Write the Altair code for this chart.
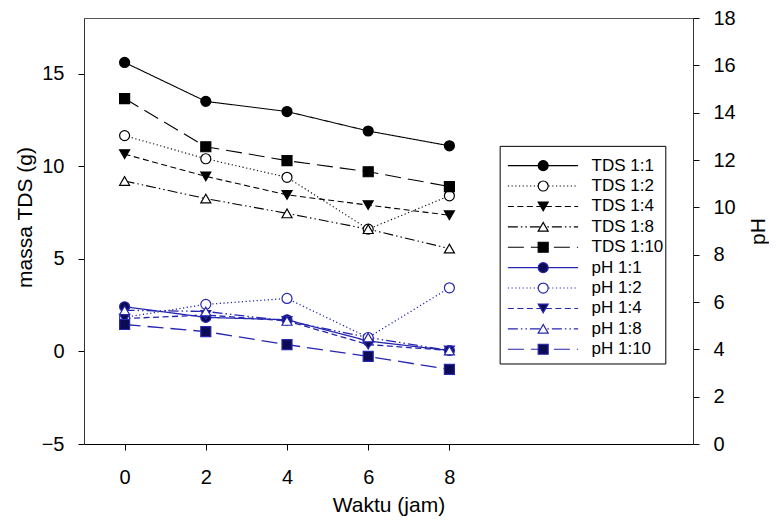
import altair as alt
import pandas as pd

# ---------------- data ----------------
hours = [0, 2, 4, 6, 8]
tds_names = ["TDS 1:1", "TDS 1:2", "TDS 1:4", "TDS 1:8", "TDS 1:10"]
ph_names = ["pH 1:1", "pH 1:2", "pH 1:4", "pH 1:8", "pH 1:10"]

tds_1_1 = [15.6, 13.5, 12.95, 11.9, 11.1]
tds_1_2 = [11.65, 10.4, 9.4, 6.6, 8.4]
tds_1_4 = [10.65, 9.45, 8.45, 7.9, 7.35]
tds_1_8 = [9.2, 8.25, 7.45, 6.6, 5.55]
tds_1_10 = [13.65, 11.05, 10.3, 9.7, 8.9]

ph_1_1 = [5.8, 5.35, 5.25, 4.35, 3.95]
ph_1_2 = [5.35, 5.9, 6.15, 4.5, 6.6]
ph_1_4 = [5.3, 5.45, 5.2, 4.2, 3.95]
ph_1_8 = [5.65, 5.6, 5.2, 4.5, 3.95]
ph_1_10 = [5.05, 4.75, 4.2, 3.7, 3.15]

left_ticks = [-5, 0, 5, 10, 15]
right_ticks = [0, 2, 4, 6, 8, 10, 12, 14, 16, 18]

# ---------------- styles ----------------
series_names = tds_names + ph_names
BLUE = "#2626b0"
NAVY = "#0c0c55"
stroke_range = ["black"] * 5 + [BLUE] * 5
fill_range = ["black", "white", "black", "white", "black",
              NAVY, "white", NAVY, "white", NAVY]
shape_range = ["circle", "circle", "triangle-down", "triangle-up", "square"] * 2
dash_range = [[1, 0], [1.2, 2.5], [6, 3.5], [10, 3, 1.5, 3, 1.5, 3], [16, 7]] * 2

FONT = "Liberation Sans"

tds_df = pd.DataFrame(
    [(n, h, v) for n, vals in zip(tds_names, [tds_1_1, tds_1_2, tds_1_4, tds_1_8, tds_1_10])
     for h, v in zip(hours, vals)],
    columns=["series", "t", "value"])
ph_df = pd.DataFrame(
    [(n, h, v) for n, vals in zip(ph_names, [ph_1_1, ph_1_2, ph_1_4, ph_1_8, ph_1_10])
     for h, v in zip(hours, vals)],
    columns=["series", "t", "value"])

# legend layout (in units of the x and left-y scales)
leg_top_row, leg_step = 10.03, 1.1016
legend_df = pd.DataFrame({
    "series": series_names,
    "value": [leg_top_row - leg_step * i for i in range(len(series_names))],
    "t": 9.44, "t2": 11.17, "tm": 10.31, "tt": 11.5,
})
box_df = pd.DataFrame({"x1": [9.25], "x2": [13.33], "y1": [11.07], "y2": [-0.68]})

# ---------------- scales / axes ----------------
x_scale = alt.Scale(domain=[-1, 14], nice=False, zero=False)
x_axis = alt.Axis(values=hours, title="Waktu (jam)", labelPadding=17, titlePadding=7)
yl_scale = alt.Scale(domain=[-5, 18], nice=False, zero=False)
yl_axis = alt.Axis(values=left_ticks, title="massa TDS (g)", orient="left",
                   titleAngle=270, titleX=-59, titleY=199, titleBaseline="middle",
                   titleAlign="center")
yr_scale = alt.Scale(domain=[0, 18], nice=False, zero=False)
yr_axis = alt.Axis(values=right_ticks, title="pH", orient="right",
                   titleAngle=270, titleX=65, titleY=213, titleBaseline="middle",
                   titleAlign="center")


def X(field):
    return alt.X(field, scale=x_scale, axis=x_axis, title="Waktu (jam)")


def YL(field):
    return alt.Y(field, scale=yl_scale, axis=yl_axis, title="massa TDS (g)")


stroke = alt.Stroke("series:N", scale=alt.Scale(domain=series_names, range=stroke_range), legend=None)
fill = alt.Fill("series:N", scale=alt.Scale(domain=series_names, range=fill_range), legend=None)
shape = alt.Shape("series:N", scale=alt.Scale(domain=series_names, range=shape_range), legend=None)
dash = alt.StrokeDash("series:N", scale=alt.Scale(domain=series_names, range=dash_range), legend=None)

line_kw = dict(strokeWidth=1.1)
pt_kw = dict(filled=True, opacity=1, fillOpacity=1, strokeWidth=1.2, size=100)

tds_lines = alt.Chart(tds_df).mark_line(**line_kw).encode(
    x=X("t:Q"), y=YL("value:Q"), stroke=stroke, strokeDash=dash)
tds_pts = alt.Chart(tds_df).mark_point(**pt_kw).encode(
    x=X("t:Q"), y=YL("value:Q"), stroke=stroke, fill=fill, shape=shape)

leg_box = alt.Chart(box_df).mark_rect(fill="white", stroke="black", strokeWidth=1).encode(
    x=X("x1:Q"), x2="x2:Q", y=YL("y1:Q"), y2="y2:Q")
leg_rules = alt.Chart(legend_df).mark_rule(**line_kw).encode(
    x=X("t:Q"), x2="t2:Q", y=YL("value:Q"), stroke=stroke, strokeDash=dash)
leg_pts = alt.Chart(legend_df).mark_point(**pt_kw).encode(
    x=X("tm:Q"), y=YL("value:Q"), stroke=stroke, fill=fill, shape=shape)
leg_text = alt.Chart(legend_df).mark_text(
    align="left", baseline="middle", fontSize=17, font=FONT, color="black").encode(
    x=X("tt:Q"), y=YL("value:Q"), text="series:N")

left_layer = alt.layer(tds_lines, tds_pts, leg_box, leg_rules, leg_pts, leg_text)

ph_lines = alt.Chart(ph_df).mark_line(strokeWidth=1.3).encode(
    x=X("t:Q"), y=alt.Y("value:Q", scale=yr_scale, axis=yr_axis, title="pH"),
    stroke=stroke, strokeDash=dash)
ph_pts = alt.Chart(ph_df).mark_point(**pt_kw).encode(
    x=X("t:Q"), y=alt.Y("value:Q", scale=yr_scale, axis=yr_axis, title="pH"),
    stroke=stroke, fill=fill, shape=shape)
right_layer = alt.layer(ph_lines, ph_pts)

chart = alt.layer(left_layer, right_layer).resolve_scale(y="independent").properties(
    width=609, height=426,
    autosize=alt.AutoSizeParams(type="none"),
    padding={"left": 76, "top": 10, "right": 76, "bottom": 72},
).configure_view(stroke="#555555", strokeWidth=1).configure_axis(
    grid=False, labelFont=FONT, titleFont=FONT, labelFontSize=20, titleFontSize=21,
    titleFontWeight="normal", labelColor="black", titleColor="black",
    tickColor="black", domainColor="#333333", tickSize=6, labelPadding=14,
).configure_axisX(domainColor="black")

chart.save("out.html", embed_options={"renderer": "svg", "actions": False})
